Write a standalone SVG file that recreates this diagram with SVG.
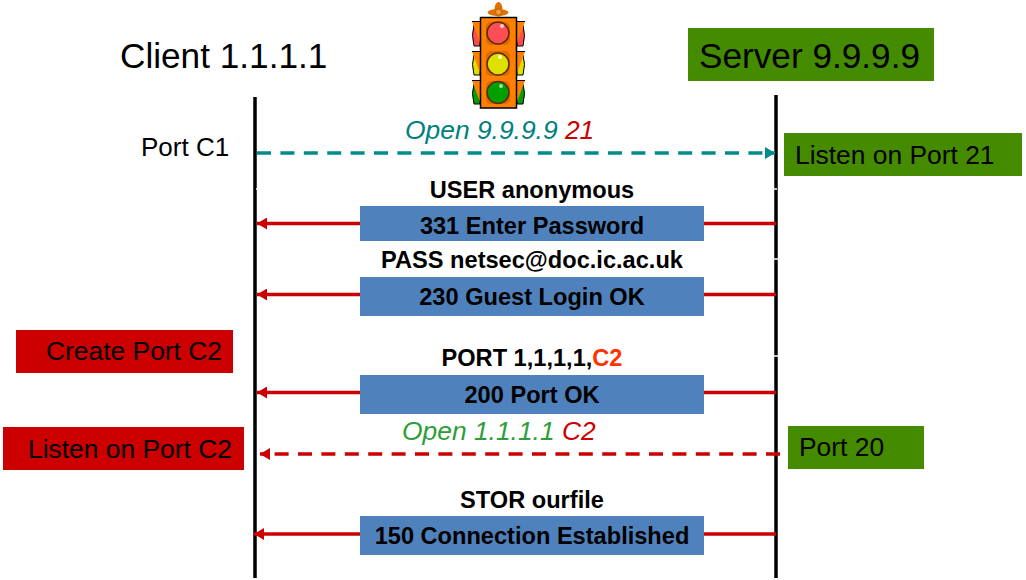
<svg xmlns="http://www.w3.org/2000/svg" width="1026" height="580" viewBox="0 0 1026 580">
<defs>
<style>
text{font-family:"Liberation Sans",Arial,sans-serif;fill:#000}
.msg{font-size:23.600px;font-weight:bold;text-anchor:middle}
.it{font-size:26.400px;font-style:italic}
.lab{font-size:26.400px}
.big{font-size:35.200px}
.life{stroke:#000;stroke-width:3.5;fill:none}
.red{stroke:#cc0000;stroke-width:3.5;fill:none}
.blue{fill:#4f81bd}
.grn{fill:#458b00}
.rbox{fill:#cc0000}
.lamp{stroke:#5a2a00;stroke-width:1.5}
.side{stroke:#000;stroke-width:1}
.tick{stroke:#fff;stroke-width:1.5}
</style>
<marker id="ar" markerUnits="userSpaceOnUse" markerWidth="11" markerHeight="12" refX="10" refY="6" orient="auto"><path d="M0 0L10 6L0 12Z" fill="#cc0000"/></marker>
<marker id="at" markerUnits="userSpaceOnUse" markerWidth="11" markerHeight="12" refX="10" refY="6" orient="auto"><path d="M0 0L10 6L0 12Z" fill="#008b8b"/></marker>
</defs>
<g id="connectors">
<line class="life" x1="255" y1="97" x2="255" y2="578"/>
<line class="life" x1="776" y1="95" x2="776" y2="578"/>
<path class="tick" d="M256 189H258M774 189H777M774 259H778M774 356H778"/>
<line x1="257" y1="153" x2="775" y2="153" stroke="#008b8b" stroke-width="3.5" stroke-dasharray="14 9.4" marker-end="url(#at)"/>
<line class="red" x1="776" y1="223.500" x2="257" y2="223.500" marker-end="url(#ar)"/>
<line class="red" x1="776" y1="294.500" x2="257" y2="294.500" marker-end="url(#ar)"/>
<line class="red" x1="776" y1="392.500" x2="257" y2="392.500" marker-end="url(#ar)"/>
<line x1="780" y1="454" x2="260" y2="454" stroke="#cc0000" stroke-width="3.500" stroke-dasharray="14 9.4" marker-end="url(#ar)"/>
<line class="red" x1="776" y1="534" x2="254" y2="534" marker-end="url(#ar)"/>
</g>
<g id="client"><text class="big" x="120" y="68">Client 1.1.1.1</text></g>
<g id="server"><rect class="grn" x="688" y="28" width="246" height="53"/><text class="big" x="699" y="68">Server 9.9.9.9</text></g>
<g id="traffic-light">
<g class="side">
<path d="M474 25Q471 35 474 46H480V25Z" fill="#ff4d4d"/>
<path d="M523 25Q526 35 523 46H517V25Z" fill="#ff4d4d"/>
<path d="M474 55Q471 64 474 75H480V55Z" fill="#e0e000"/>
<path d="M523 55Q526 64 523 75H517V55Z" fill="#e0e000"/>
<path d="M474 84Q471 93 474 104H480V84Z" fill="#00a000"/>
<path d="M523 84Q526 93 523 104H517V84Z" fill="#00a000"/>
</g>
<path d="M472 21.500H480V43ZM525 21.500H517V43ZM472 51.500H480V73ZM525 51.500H517V73ZM472 80.500H480V102ZM525 80.500H517V102Z" fill="#ff8000"/>
<path d="M472 21.500H525M472 51.500H525M472 80.500H525" stroke="#000" stroke-width="1"/>
<rect x="480.500" y="17.500" width="36" height="90.500" fill="#ff8000" stroke="#000" stroke-width="1.500"/>
<ellipse cx="498" cy="12.500" rx="10.500" ry="3.500" fill="#e07000"/>
<ellipse cx="498.500" cy="9.500" rx="4" ry="7.500" fill="#e07000"/>
<circle cx="498.500" cy="12" r="3" fill="#f0a040" stroke="#a05000" stroke-width="0.700"/>
<rect x="486" y="22" width="24" height="23" rx="5" fill="#e06a00"/>
<rect x="486" y="51" width="24" height="25" rx="5" fill="#e06a00"/>
<rect x="486" y="81" width="24" height="23" rx="5" fill="#e06a00"/>
<circle class="lamp" cx="498" cy="33" r="11" fill="#ff4d55"/>
<circle class="lamp" cx="498" cy="64" r="11" fill="#e0e000"/>
<circle class="lamp" cx="498" cy="92.500" r="11" fill="#00a000"/>
<circle cx="502" cy="26" r="2" fill="#ffd0d0"/><circle cx="500" cy="57" r="2" fill="#ffffc0"/><circle cx="501" cy="86" r="2" fill="#a0e0a0"/>
</g>
<g id="port-c1"><text x="141" y="156" font-size="26">Port C1</text></g>
<g id="open-server"><text class="it" x="405" y="139"><tspan fill="#008080">Open 9.9.9.9 </tspan><tspan fill="#cc0000">21</tspan></text></g>
<g id="listen-21"><rect class="grn" x="784" y="133" width="238" height="43"/><text class="lab" x="795" y="164">Listen on Port 21</text></g>
<g id="user"><text class="msg" x="532" y="198">USER anonymous</text></g>
<g id="m331"><rect class="blue" x="360" y="206" width="344" height="35"/><text class="msg" x="532" y="233.500">331 Enter Password</text></g>
<g id="pass"><text class="msg" x="532" y="268">PASS netsec@doc.ic.ac.uk</text></g>
<g id="m230"><rect class="blue" x="360" y="277" width="344" height="39"/><text class="msg" x="532" y="305">230 Guest Login OK</text></g>
<g id="create-c2"><rect class="rbox" x="16" y="330" width="217" height="43"/><text class="lab" x="46" y="360">Create Port C2</text></g>
<g id="port-cmd"><text class="msg" x="532" y="366">PORT 1,1,1,1,<tspan fill="#ff3300">C2</tspan></text></g>
<g id="m200"><rect class="blue" x="360" y="375" width="344" height="39"/><text class="msg" x="532" y="403">200 Port OK</text></g>
<g id="open-client"><text class="it" x="402" y="440"><tspan fill="#2e9e3a">Open 1.1.1.1 </tspan><tspan fill="#cc0000">C2</tspan></text></g>
<g id="listen-c2"><rect class="rbox" x="3" y="427" width="241" height="43"/><text class="lab" x="28" y="458">Listen on Port C2</text></g>
<g id="port-20"><rect class="grn" x="788" y="426" width="136" height="43"/><text class="lab" x="799" y="456">Port 20</text></g>
<g id="stor"><text class="msg" x="532" y="508">STOR ourfile</text></g>
<g id="m150"><rect class="blue" x="360" y="516" width="344" height="39"/><text class="msg" x="532" y="544">150 Connection Established</text></g>
</svg>
